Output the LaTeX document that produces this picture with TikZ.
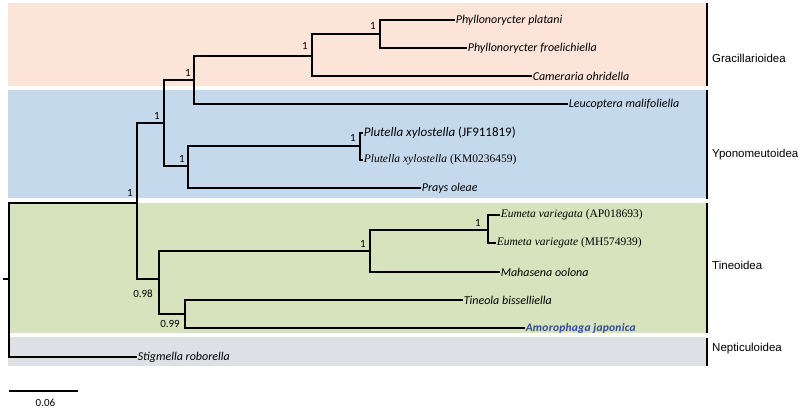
\documentclass[tikz,border=0pt]{standalone}
\usepackage{fontspec}
\setmainfont{Carlito}
\newfontfamily\timesfont{Liberation Serif}
\newfontfamily\arialfont{Liberation Sans}
\newfontfamily\amofont[LetterSpace=2]{Carlito}
\usetikzlibrary{positioning}
\definecolor{BandPink}  {HTML}{FCE4D9}
\definecolor{BandBlue}  {HTML}{C5D9EC}
\definecolor{BandGreen} {HTML}{D7E3BC}
\definecolor{BandGray}  {HTML}{DEE0E5}
\definecolor{TxtBlue}   {HTML}{2E4A9C}

\begin{document}
\begin{tikzpicture}[x=1pt, y=-1pt,
    branch/.style={line width=1.1pt},
    tip/.style={anchor=west, inner xsep=0.6pt, inner ysep=0pt,
                font=\fontsize{12}{14}\selectfont\itshape},
    seqtip/.style={anchor=west, inner xsep=0.6pt, inner ysep=0pt,
                font=\timesfont\fontsize{11.5}{13}\selectfont},
    supp/.style={inner sep=0pt, font=\fontsize{11}{13}\selectfont},
    grp/.style={anchor=west, inner sep=0pt,
                font=\arialfont\fontsize{11.5}{13}\selectfont},
    bar/.style={line width=1.8pt}]
  \useasboundingbox (0,0) rectangle (800,409);

  % Superfamily bands
  \fill[BandPink]  (8,3)   rectangle (706,86);
  \fill[BandBlue]  (8,90)  rectangle (706,198);
  \fill[BandGreen] (8,203) rectangle (706,333);
  \fill[BandGray]  (8,337) rectangle (706,366);

  \draw[bar] (707,3)   -- (707,86);
  \draw[bar] (707,90)  -- (707,199);
  \draw[bar] (707,203) -- (707,333);
  \draw[bar] (707,338) -- (707,366);
  \node[grp] (gGra) at (712,58)  {Gracillarioidea};
  \node[grp] (gYpo) at (712,155) {Yponomeutoidea};
  \node[grp] (gTin) at (712,265) {Tineoidea};
  \node[grp] (gNep) at (712,349) {Nepticuloidea};

  % Internal nodes
  \coordinate (stub) at (3,279);
  \coordinate (root) at (9,279);
  \coordinate (nA) at (137,203);
  \coordinate (nB) at (164,123);
  \coordinate (nC) at (194,80);
  \coordinate (nD) at (312,56);
  \coordinate (nE) at (380,34);
  \coordinate (nF) at (188,166);
  \coordinate (nG) at (360,146);
  \coordinate (nH) at (159,279);
  \coordinate (nI) at (370,251);
  \coordinate (nJ) at (488,230);
  \coordinate (nK) at (185,314);

  % Tips
  \node[tip] (tPla) at (455,20)  {Phyllonorycter platani};
  \node[tip] (tFro) at (467,48)  {Phyllonorycter froelichiella};
  \node[tip] (tCam) at (532,76)  {Cameraria ohridella};
  \node[tip] (tLeu) at (568,104) {Leucoptera malifoliella};
  \node[tip, font=\fontsize{13}{15}\selectfont] (tPxJ) at (363,133)
        {\textit{Plutella xylostella} (JF911819)};
  \node[seqtip] (tPxK) at (363,160) {\textit{Plutella xylostella} (KM0236459)};
  \node[tip] (tPra) at (421,188) {Prays oleae};
  \node[seqtip] (tEuA) at (500,215) {\textit{Eumeta variegata} (AP018693)};
  \node[seqtip] (tEuM) at (496,243) {\textit{Eumeta variegate} (MH574939)};
  \node[tip] (tMah) at (500,272) {Mahasena oolona};
  \node[tip] (tTin) at (463,300) {Tineola bisselliella};
  \node[tip, font=\amofont\fontsize{11.5}{13}\selectfont\bfseries\itshape,
        text=TxtBlue] (tAmo) at (525,328) {Amorophaga japonica};
  \node[tip] (tSti) at (137,357) {Stigmella roborella};

  % Branches
  \draw[branch] (stub) -- (root);
  \draw[branch] (root) |- (nA);
  \draw[branch] (root) |- (tSti.west);
  \draw[branch] (nA) |- (nB);
  \draw[branch] (nA) |- (nH);
  \draw[branch] (nB) |- (nC);
  \draw[branch] (nB) |- (nF);
  \draw[branch] (nC) |- (nD);
  \draw[branch] (nC) |- (tLeu.west);
  \draw[branch] (nD) |- (nE);
  \draw[branch] (nD) |- (tCam.west);
  \draw[branch] (nE) |- (tPla.west);
  \draw[branch] (nE) |- (tFro.west);
  \draw[branch] (nF) |- (nG);
  \draw[branch] (nF) |- (tPra.west);
  \draw[branch] (nG) |- (tPxJ.west);
  \draw[branch] (nG) |- (tPxK.west);
  \draw[branch] (nH) |- (nI);
  \draw[branch] (nH) |- (nK);
  \draw[branch] (nI) |- (nJ);
  \draw[branch] (nI) |- (tMah.west);
  \draw[branch] (nJ) |- (tEuA.west);
  \draw[branch] (nJ) |- (tEuM.west);
  \draw[branch] (nK) |- (tTin.west);
  \draw[branch] (nK) |- (tAmo.west);

  % Support values
  \node[supp, above left=6pt and 4pt of nA] (sA) {1};
  \node[supp, above left=3pt and 4pt of nB] (sB) {1};
  \node[supp, above left=3pt and 3pt of nC] (sC) {1};
  \node[supp, above left=6pt and 4pt of nD] (sD) {1};
  \node[supp, above left=4pt and 4pt of nE] (sE) {1};
  \node[supp, above left=3pt and 3pt of nF] (sF) {1};
  \node[supp, above left=4pt and 4pt of nG] (sG) {1};
  \node[supp, above left=3pt and 4pt of nI] (sI) {1};
  \node[supp, above left=3pt and 7pt of nJ] (sJ) {1};
  \node[supp, below left=11pt and 6pt of nH] (sH) {0.98};
  \node[supp, below left=6pt and 5pt of nK] (sK) {0.99};

  % Scale bar
  \coordinate (sb0) at (9,391);
  \coordinate (sb1) at (78,391);
  \draw[branch] (sb0) -- (sb1) node[supp, midway, below=8pt, xshift=2pt] (sLab) {0.06};
\end{tikzpicture}
\end{document}
